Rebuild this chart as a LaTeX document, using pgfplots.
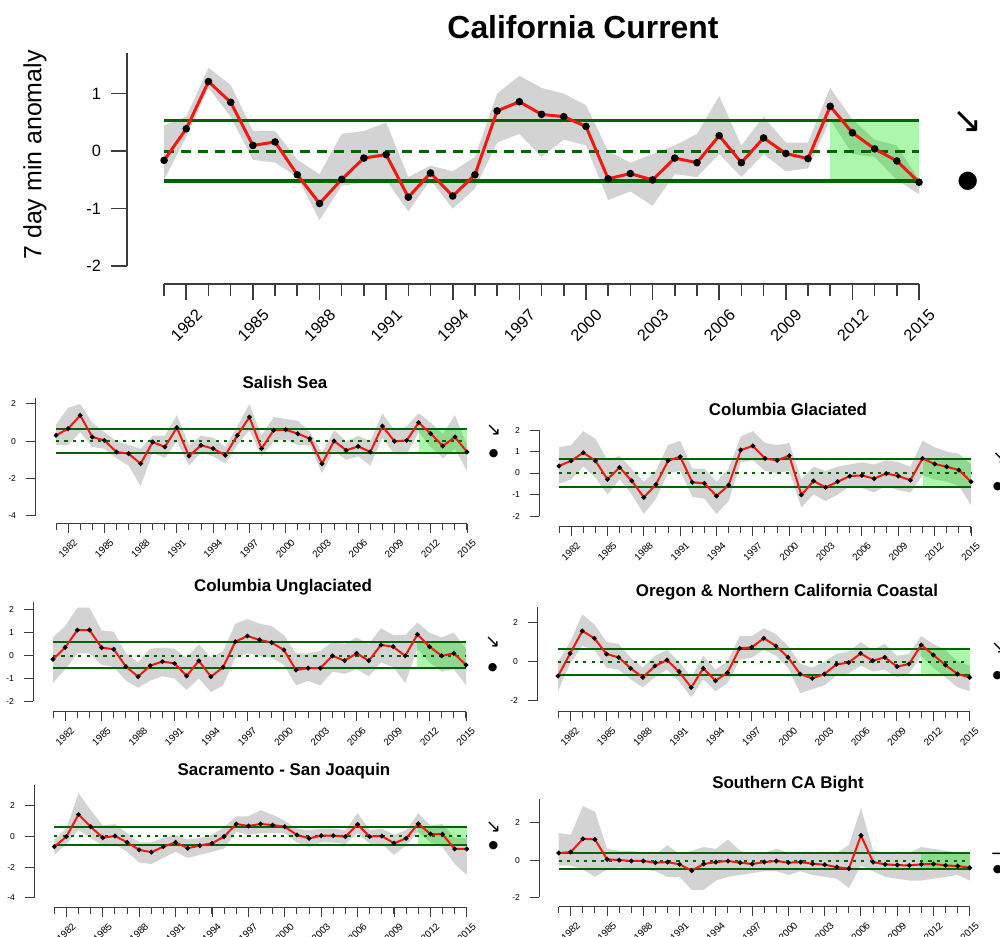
\documentclass[border=0pt]{standalone}
\usepackage{pgfplots}
\pgfplotsset{compat=1.18}
\usepackage{pgfplotstable}
\usepgfplotslibrary{fillbetween}
\usepackage{fontspec}
\setmainfont{Liberation Sans}
\newfontfamily\dejavu{DejaVu Sans}

\definecolor{bandgray}{RGB}{211,211,211}
\definecolor{dkgreen}{RGB}{0,100,0}
\definecolor{lgreen}{RGB}{0,230,0}
\definecolor{axcol}{RGB}{60,60,60}
\definecolor{rline}{RGB}{240,25,15}

\pgfplotstableread{
yr v lo hi
1981 -0.16 -0.50 0.45
1982 0.39 0.25 0.60
1983 1.21 1.10 1.45
1984 0.85 0.60 1.15
1985 0.10 -0.15 0.35
1986 0.16 -0.20 0.35
1987 -0.41 -0.45 -0.15
1988 -0.91 -1.20 -0.40
1989 -0.49 -0.60 0.30
1990 -0.12 -0.55 0.35
1991 -0.06 -0.50 0.50
1992 -0.80 -1.05 -0.45
1993 -0.38 -0.50 -0.25
1994 -0.78 -1.00 -0.35
1995 -0.41 -0.65 -0.10
1996 0.70 0.15 1.00
1997 0.86 0.30 1.31
1998 0.64 -0.10 1.10
1999 0.60 0.20 1.00
2000 0.43 0.10 0.80
2001 -0.48 -0.85 0.00
2002 -0.39 -0.70 -0.20
2003 -0.50 -0.95 -0.05
2004 -0.12 -0.40 0.10
2005 -0.20 -0.45 0.30
2006 0.27 -0.05 0.96
2007 -0.20 -0.45 0.10
2008 0.23 -0.05 0.60
2009 -0.04 -0.35 0.15
2010 -0.13 -0.30 0.15
2011 0.78 0.55 1.10
2012 0.32 -0.05 0.55
2013 0.04 -0.10 0.20
2014 -0.17 -0.50 0.10
2015 -0.54 -0.75 -0.50
}\tmain

\pgfplotstableread{
yr v lo hi
1981 0.32 -0.2 0.9
1982 0.68 -0.2 1.8
1983 1.39 0.5 2.0
1984 0.23 -0.3 1.0
1985 0.05 -0.4 0.5
1986 -0.57 -0.9 0.0
1987 -0.66 -1.3 -0.2
1988 -1.20 -2.4 -0.4
1989 -0.04 -0.6 0.3
1990 -0.30 -0.9 0.3
1991 0.73 0.0 1.4
1992 -0.79 -1.3 -0.2
1993 -0.21 -0.6 0.3
1994 -0.39 -0.8 0.2
1995 -0.75 -1.2 -0.3
1996 0.32 -0.2 0.8
1997 1.30 0.6 2.0
1998 -0.39 -0.8 0.3
1999 0.59 0.0 1.3
2000 0.62 0.1 1.2
2001 0.41 -0.2 1.1
2002 0.14 -0.2 0.5
2003 -1.20 -1.7 -0.6
2004 0.02 -0.5 0.6
2005 -0.48 -1.0 0.0
2006 -0.27 -0.8 0.3
2007 -0.57 -1.3 0.0
2008 0.82 0.2 1.5
2009 0.00 -0.7 0.6
2010 0.05 -0.7 0.8
2011 1.00 0.5 1.5
2012 0.41 -0.3 1.0
2013 -0.25 -0.9 0.4
2014 0.23 -0.4 1.4
2015 -0.57 -1.6 -0.2
}\tsalish

\pgfplotstableread{
yr v lo hi
1981 0.33 -0.5 1.2
1982 0.57 -0.3 1.3
1983 0.95 0.3 1.95
1984 0.57 -0.2 1.6
1985 -0.29 -1.0 0.6
1986 0.26 -0.3 0.8
1987 -0.36 -1.0 0.2
1988 -1.13 -1.9 -0.4
1989 -0.53 -1.2 0.1
1990 0.57 0.0 1.3
1991 0.76 0.1 1.5
1992 -0.43 -1.1 0.2
1993 -0.48 -1.2 0.2
1994 -1.07 -1.9 -0.4
1995 -0.56 -1.3 0.2
1996 1.07 0.5 1.7
1997 1.26 0.6 1.95
1998 0.68 0.1 1.4
1999 0.59 0.0 1.3
2000 0.81 0.1 1.4
2001 -1.02 -1.6 -0.3
2002 -0.37 -1.0 0.3
2003 -0.67 -1.3 0.1
2004 -0.40 -1.0 0.3
2005 -0.14 -0.6 0.4
2006 -0.11 -0.7 0.5
2007 -0.26 -0.9 0.4
2008 -0.02 -0.6 0.6
2009 -0.14 -0.8 0.5
2010 -0.33 -0.9 0.3
2011 0.68 -0.1 1.5
2012 0.42 -0.3 1.2
2013 0.29 -0.4 1.0
2014 0.14 -0.6 0.9
2015 -0.40 -1.5 0.4
}\tcolg

\pgfplotstableread{
yr v lo hi
1981 -0.16 -1.2 0.8
1982 0.36 -0.6 1.3
1983 1.12 0.1 2.1
1984 1.12 0.1 2.1
1985 0.35 -0.4 1.1
1986 0.28 -0.5 1.05
1987 -0.48 -1.1 0.1
1988 -0.92 -1.4 -0.3
1989 -0.44 -1.1 0.3
1990 -0.26 -0.9 0.35
1991 -0.34 -1.0 0.3
1992 -0.89 -1.5 -0.1
1993 -0.23 -1.0 0.5
1994 -0.92 -1.6 -0.1
1995 -0.51 -1.3 0.2
1996 0.61 -0.1 1.4
1997 0.86 0.1 1.6
1998 0.69 0.0 1.4
1999 0.57 -0.1 1.3
2000 0.25 -0.4 0.9
2001 -0.63 -1.3 0.1
2002 -0.55 -1.1 0.1
2003 -0.55 -1.3 0.2
2004 -0.01 -0.7 0.6
2005 -0.22 -0.8 0.5
2006 0.10 -0.6 0.8
2007 -0.22 -0.9 0.5
2008 0.47 -0.3 1.2
2009 0.39 -0.5 0.9
2010 -0.01 -1.2 0.9
2011 0.93 0.3 1.45
2012 0.39 -0.3 1.0
2013 -0.01 -0.7 0.8
2014 0.10 -0.6 1.0
2015 -0.41 -1.3 0.3
}\tcolu

\pgfplotstableread{
yr v lo hi
1981 -0.73 -1.5 0.0
1982 0.42 -0.1 1.0
1983 1.56 0.8 2.4
1984 1.19 0.6 1.9
1985 0.39 -0.3 1.0
1986 0.22 -0.4 0.9
1987 -0.34 -0.9 0.2
1988 -0.80 -1.3 -0.3
1989 -0.22 -0.8 0.3
1990 0.08 -0.4 0.6
1991 -0.51 -1.0 0.0
1992 -1.31 -1.8 -0.8
1993 -0.34 -0.9 0.3
1994 -0.97 -1.5 -0.4
1995 -0.56 -1.1 0.0
1996 0.68 0.1 1.3
1997 0.73 0.2 1.3
1998 1.19 0.6 1.7
1999 0.80 0.3 1.4
2000 0.22 -0.3 0.8
2001 -0.63 -1.6 -0.1
2002 -0.85 -1.4 -0.3
2003 -0.63 -1.2 0.0
2004 -0.14 -0.7 0.4
2005 -0.05 -0.6 0.5
2006 0.42 -0.2 1.0
2007 0.05 -0.5 0.6
2008 0.22 -0.4 0.9
2009 -0.25 -0.8 0.3
2010 -0.12 -0.6 0.4
2011 0.85 0.3 1.3
2012 0.34 -0.3 0.9
2013 -0.17 -0.8 0.6
2014 -0.63 -1.3 0.0
2015 -0.80 -1.5 -0.2
}\toreg

\pgfplotstableread{
yr v lo hi
1981 -0.67 -1.2 -0.2
1982 -0.02 -0.5 0.5
1983 1.42 0.4 2.8
1984 0.62 -0.1 1.7
1985 -0.09 -0.6 0.7
1986 0.02 -0.5 0.8
1987 -0.39 -1.0 0.2
1988 -0.88 -1.7 -0.4
1989 -1.03 -1.8 -0.4
1990 -0.67 -1.4 -0.1
1991 -0.39 -1.0 0.1
1992 -0.77 -1.4 -0.2
1993 -0.60 -1.2 -0.1
1994 -0.45 -1.0 0.1
1995 -0.02 -0.8 0.6
1996 0.80 0.3 1.3
1997 0.67 0.1 1.3
1998 0.80 0.2 1.7
1999 0.73 0.2 1.4
2000 0.62 0.2 1.0
2001 0.09 -0.4 0.5
2002 -0.13 -0.7 0.4
2003 0.04 -0.4 0.5
2004 0.04 -0.4 0.5
2005 -0.02 -0.5 0.4
2006 0.77 0.2 1.5
2007 -0.02 -0.5 0.4
2008 0.02 -0.5 0.5
2009 -0.45 -1.2 0.1
2010 -0.13 -0.6 0.4
2011 0.82 0.3 1.5
2012 0.15 -0.4 0.7
2013 0.13 -0.7 0.8
2014 -0.82 -1.8 -0.1
2015 -0.82 -2.5 -0.1
}\tsac

\pgfplotstableread{
yr v lo hi
1981 0.38 -0.3 1.45
1982 0.43 -0.3 1.35
1983 1.14 -0.5 2.9
1984 1.11 -0.9 2.6
1985 0.04 -0.5 0.6
1986 0.00 -0.4 0.5
1987 -0.05 -0.5 0.5
1988 -0.05 -0.5 0.4
1989 -0.14 -0.6 0.3
1990 -0.11 -0.9 0.8
1991 -0.23 -0.9 0.3
1992 -0.57 -1.6 0.5
1993 -0.21 -1.6 0.7
1994 -0.11 -1.1 0.6
1995 -0.05 -0.9 1.1
1996 -0.14 -0.8 0.5
1997 -0.21 -0.7 0.3
1998 -0.11 -0.6 0.4
1999 -0.05 -0.6 0.6
2000 -0.14 -0.8 0.4
2001 -0.11 -0.6 0.3
2002 -0.20 -0.8 0.4
2003 -0.25 -0.9 0.3
2004 -0.38 -1.0 0.4
2005 -0.46 -1.5 0.8
2006 1.32 -0.3 2.8
2007 -0.11 -0.6 0.5
2008 -0.23 -0.9 0.4
2009 -0.27 -1.0 0.3
2010 -0.29 -1.1 0.4
2011 -0.23 -1.1 0.7
2012 -0.21 -1.0 0.6
2013 -0.29 -0.9 0.5
2014 -0.32 -0.8 0.4
2015 -0.41 -1.1 0.3
}\tsouth

% #1 table, #2 upper green, #3 lower green, #4 dashed level,
% #5 xmin, #6 ymin, #7 y-axis bottom, #8 y-axis top
\newcommand{\panel}[8]{%
  \addplot[name path=hi,draw=none,forget plot] table[x=yr,y=hi]{#1};
  \addplot[name path=lo,draw=none,forget plot] table[x=yr,y=lo]{#1};
  \addplot[fill=bandgray,draw=none] fill between[of=hi and lo];
  \addplot[fill=lgreen,fill opacity=0.32,draw=none] coordinates {(2011,#3) (2015,#3) (2015,#2) (2011,#2)} -- cycle;
  \addplot[dkgreen,glw] coordinates {(1981,#2) (2015,#2)};
  \addplot[dkgreen,glw] coordinates {(1981,#3) (2015,#3)};
  \addplot[dkgreen,glw,dpat] coordinates {(1981,#4) (2015,#4)};
  \addplot[rline,rlw,mark=*,mark options={solid,fill=black,draw=black,mk}] table[x=yr,y=v]{#1};
  \draw[axl] (axis cs:#5,#7) -- (axis cs:#5,#8);
  \draw[axl] (axis cs:1981,#6) -- (axis cs:2015,#6);
}

\pgfplotsset{panelbase/.style={
  scale only axis, clip=false, anchor=south west,
  axis x line*=bottom, axis y line*=left, axis line style={draw=none},
  tick align=outside, xmax=2015,
  xtick={1982,1985,1988,1991,1994,1997,2000,2003,2006,2009,2012,2015},
  minor xtick={1981,...,2015},
  xticklabels={1982,1985,1988,1991,1994,1997,2000,2003,2006,2009,2012,2015},
  xticklabel style={xshift=\xls,yshift=\yls,rotate=45,anchor=north east,inner sep=1bp},
  every tick/.style={axcol},
}}

\begin{document}
\begin{tikzpicture}

% ---------- main panel ----------
\tikzset{glw/.style={line width=1.6bp}, rlw/.style={line width=1.5bp},
  dpat/.style={dash pattern=on 5bp off 3.5bp}, axl/.style={axcol,line width=0.8bp},
  mk/.style={mark size=1.1bp}}
\def\xls{4.5bp}\def\yls{-2.5bp}
\begin{axis}[panelbase, at={(63.5bp,326.5bp)}, width=396bp, height=115bp,
  xmin=1979.33, ymin=-2.31, ymax=1.69,
  ytick={-2,-1,0,1}, yticklabels={-2,-1,0,1},
  major tick length=8bp, minor tick length=6bp,
  every tick/.append style={line width=0.8bp},
  ticklabel style={font=\fontsize{8.2}{10}\selectfont},
  yticklabel style={xshift=-1.5bp}]
\panel{\tmain}{0.53}{-0.52}{0}{1979.33}{-2.31}{-2}{1.7}
\node[font=\dejavu\fontsize{18}{18}\selectfont] at (axis cs:2017.2,0.5) {↘};
\node[font=\dejavu\fontsize{12}{12}\selectfont] at (axis cs:2017.2,-0.52) {●};
\end{axis}
\node[font=\bfseries\fontsize{16}{18}\selectfont] at (291.5bp,455bp) {California Current};
\node[rotate=90,font=\fontsize{12.5}{14}\selectfont] at (17.5bp,391bp) {7 day min anomaly};

% ---------- small panels ----------
\tikzset{glw/.style={line width=0.9bp}, rlw/.style={line width=1bp},
  dpat/.style={dash pattern=on 1.6bp off 2.6bp}, axl/.style={axcol,line width=0.5bp},
  mk/.style={mark size=0.6bp}}
\def\xls{2.5bp}\def\yls{-1bp}
\pgfplotsset{smallp/.style={panelbase,
  major tick length=4.5bp, minor tick length=3bp,
  every tick/.append style={line width=0.5bp},
  yticklabel style={font=\fontsize{4.3}{5}\selectfont,xshift=-1.5bp},
  xticklabel style={font=\fontsize{4.9}{5}\selectfont}}}

% Salish Sea
\begin{axis}[smallp, at={(17.5bp,206.5bp)}, width=216bp, height=62.8bp,
  xmin=1979.26, ymin=-4.43, ymax=2.3,
  ytick={-4,-2,0,2}, yticklabels={-4,-2,0,2}]
\panel{\tsalish}{0.64}{-0.64}{0}{1979.26}{-4.43}{-4}{2.3}
\node[font=\dejavu\fontsize{9}{9}\selectfont] at (axis cs:2017.2,0.6) {↘};
\node[font=\dejavu\fontsize{5.5}{6}\selectfont] at (axis cs:2017.2,-0.64) {●};
\end{axis}
\node[font=\bfseries\fontsize{8.5}{10}\selectfont] at (142.5bp,277.5bp) {Salish Sea};

% Columbia Glaciated
\begin{axis}[smallp, at={(269.5bp,205bp)}, width=216bp, height=49bp,
  xmin=1979.35, ymin=-2.51, ymax=2.05,
  ytick={-2,-1,0,1,2}, yticklabels={-2,-1,0,1,2}]
\panel{\tcolg}{0.64}{-0.64}{0}{1979.35}{-2.51}{-2}{2}
\node[font=\dejavu\fontsize{9}{9}\selectfont] at (axis cs:2017.4,0.7) {↘};
\node[font=\dejavu\fontsize{5.5}{6}\selectfont] at (axis cs:2017.2,-0.65) {●};
\end{axis}
\node[font=\bfseries\fontsize{8.5}{10}\selectfont] at (394bp,264bp) {Columbia Glaciated};

% Columbia Unglaciated
\begin{axis}[smallp, at={(16.5bp,112.5bp)}, width=216.5bp, height=55bp,
  xmin=1979.35, ymin=-2.47, ymax=2.35,
  ytick={-2,-1,0,1,2}, yticklabels={-2,-1,0,1,2}]
\panel{\tcolu}{0.58}{-0.55}{0}{1979.35}{-2.47}{-2}{2.35}
\node[font=\dejavu\fontsize{9}{9}\selectfont] at (axis cs:2017.2,0.6) {↘};
\node[font=\dejavu\fontsize{5.5}{6}\selectfont] at (axis cs:2017.2,-0.54) {●};
\end{axis}
\node[font=\bfseries\fontsize{8.5}{10}\selectfont] at (141.5bp,175bp) {Columbia Unglaciated};

% Oregon & Northern California Coastal
\begin{axis}[smallp, at={(268.5bp,112.5bp)}, width=216.3bp, height=52.7bp,
  xmin=1979.26, ymin=-2.56, ymax=2.8,
  ytick={-2,0,2}, yticklabels={-2,0,2}]
\panel{\toreg}{0.66}{-0.69}{0}{1979.26}{-2.56}{-2}{2.8}
\node[font=\dejavu\fontsize{9}{9}\selectfont] at (axis cs:2017.4,0.7) {↘};
\node[font=\dejavu\fontsize{5.5}{6}\selectfont] at (axis cs:2017.3,-0.73) {●};
\end{axis}
\node[font=\bfseries\fontsize{8.5}{10}\selectfont] at (393.5bp,172.5bp) {Oregon \& Northern California Coastal};

% Sacramento - San Joaquin
\begin{axis}[smallp, at={(17bp,14.5bp)}, width=216.4bp, height=61.5bp,
  xmin=1979.33, ymin=-4.65, ymax=3.33,
  ytick={-4,-2,0,2}, yticklabels={-4,-2,0,2}]
\panel{\tsac}{0.60}{-0.58}{0}{1979.33}{-4.65}{-4}{3.33}
\node[font=\dejavu\fontsize{9}{9}\selectfont] at (axis cs:2017.2,0.6) {↘};
\node[font=\dejavu\fontsize{5.5}{6}\selectfont] at (axis cs:2017.2,-0.63) {●};
\end{axis}
\node[font=\bfseries\fontsize{8.5}{10}\selectfont] at (142bp,83bp) {Sacramento - San Joaquin};

% Southern CA Bight
\begin{axis}[smallp, at={(269.5bp,15bp)}, width=215.4bp, height=54.2bp,
  xmin=1979.37, ymin=-2.52, ymax=3.3,
  ytick={-2,0,2}, yticklabels={-2,0,2}]
\panel{\tsouth}{0.39}{-0.50}{-0.07}{1979.37}{-2.52}{-2}{3.3}
\node[font=\dejavu\fontsize{9}{9}\selectfont] at (axis cs:2017.4,0.3) {→};
\node[font=\dejavu\fontsize{5.5}{6}\selectfont] at (axis cs:2017.3,-0.5) {●};
\end{axis}
\node[font=\bfseries\fontsize{8.5}{10}\selectfont] at (394bp,76.5bp) {Southern CA Bight};

\pgfresetboundingbox
\path[use as bounding box] (0,0) rectangle (500bp,468.5bp);
\end{tikzpicture}
\end{document}
